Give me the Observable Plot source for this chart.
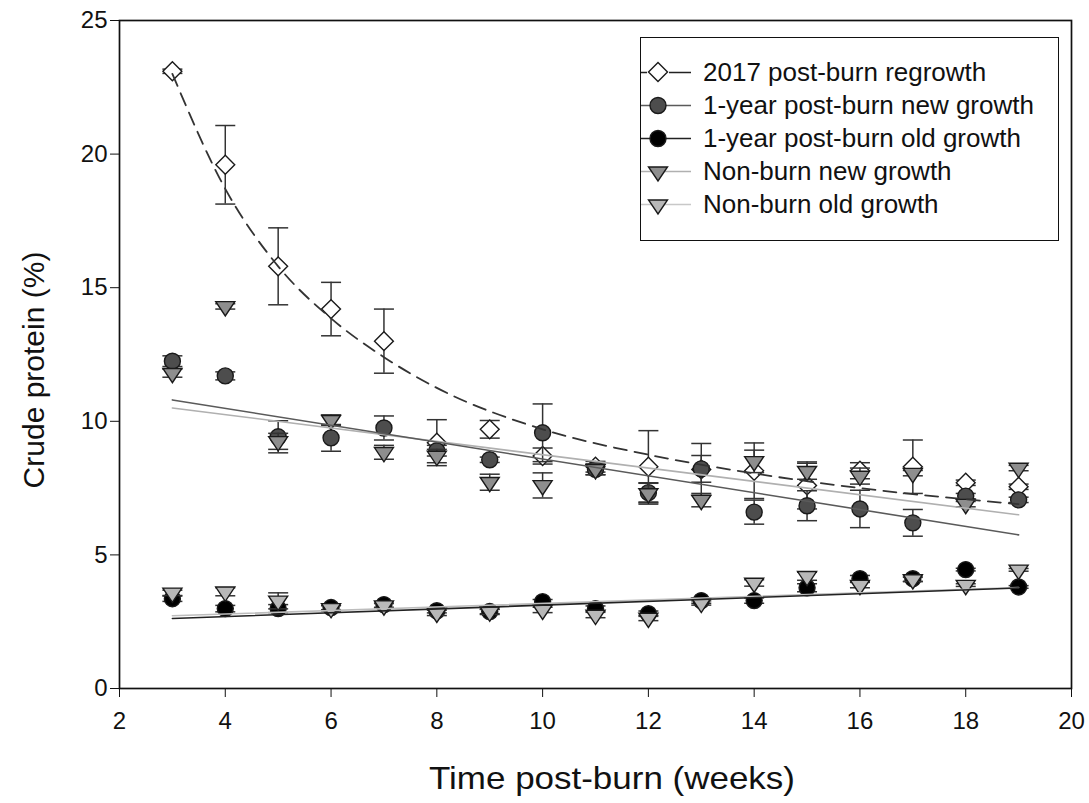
<!DOCTYPE html>
<html>
<head>
<meta charset="utf-8">
<script src="https://cdn.jsdelivr.net/npm/d3@7"></script>
<script src="https://cdn.jsdelivr.net/npm/@observablehq/plot@0.6"></script>
<style>
  body { margin: 0; background: #fff; }
  #wrap { position: relative; width: 1089px; height: 803px; font-family: "Liberation Sans", Arial, sans-serif; color: #111; }
  #chart svg { display: block; }
  #legend { position: absolute; left: 640px; top: 37px; width: 419px; height: 204px; border: 1.6px solid #111; background: #fff; box-sizing: border-box; }
  .row { position: absolute; left: 0; height: 33px; display: flex; align-items: center; white-space: nowrap; }
  .row svg { display: block; }
  .row span { display: inline-block; font-size: 25px; margin-left: 6px; color: #111; transform: scaleX(1.04); transform-origin: left center; }
  .xtitle { position: absolute; left: 612px; top: 778px; font-size: 31.5px; white-space: nowrap; transform: translate(-50%, -50%) scaleX(1.11); }
  .ytitle { position: absolute; left: 34px; top: 370px; font-size: 30px; transform: translate(-50%, -50%) rotate(-90deg); white-space: nowrap; }
</style>
</head>
<body>
<div id="wrap">
  <div id="chart"></div>
  <div class="xtitle" id="xtitle"></div>
  <div class="ytitle" id="ytitle"></div>
  <div id="legend"></div>
</div>
<script>
// ---- data ----
const weeks = [3,4,5,6,7,8,9,10,11,12,13,14,15,16,17,18,19];

const regrowth2017    = [23.1,19.6,15.8,14.2,13.0,9.2,9.7,8.7,8.3,8.3,8.2,8.15,7.6,8.15,8.3,7.7,7.55];
const regrowth2017Err = [0.08,1.47,1.44,1.0,1.2,0.86,0.33,0.3,0.2,1.35,0.97,1.04,0.88,0.3,1.0,0.1,0.1];

const pbNew    = [12.25,11.7,9.42,9.38,9.75,8.9,8.56,9.57,8.2,7.33,8.22,6.6,6.84,6.72,6.2,7.2,7.06];
const pbNewErr = [0.2,0.15,0.6,0.5,0.45,0.2,0.1,1.08,0.2,0.35,0.5,0.45,0.56,0.7,0.5,0.1,0.1];

const pbOld    = [3.36,2.99,2.99,3.03,3.14,2.91,2.88,3.25,2.99,2.8,3.29,3.29,3.77,4.11,4.11,4.45,3.8];
const pbOldErr = [0.1,0.12,0.15,0.08,0.1,0.08,0.08,0.08,0.1,0.1,0.1,0.1,0.15,0.12,0.1,0.05,0.05];

const nbNew    = [11.8,14.3,9.25,10.04,8.84,8.7,7.72,7.6,8.2,7.3,7.05,8.5,8.13,7.95,8.06,6.9,8.25];
const nbNewErr = [0.15,0.1,0.3,0.2,0.26,0.25,0.3,0.47,0.2,0.4,0.25,0.42,0.3,0.3,0.1,0.1,0.1];

const nbOld    = [3.58,3.62,3.28,3.0,3.1,2.83,2.87,2.94,2.75,2.64,3.2,3.95,4.2,3.87,4.08,3.87,4.44];
const nbOldErr = [0.1,0.15,0.3,0.1,0.08,0.1,0.1,0.1,0.1,0.1,0.08,0.12,0.15,0.1,0.08,0.05,0.05];

// fitted curves
const regrowthFitWeeks  = [3,4,5,6,7,8,10,12,14,16,19];
const regrowthFitValues = [23.0,18.7,15.8,13.85,12.4,11.25,9.7,8.75,8.05,7.5,6.9];
const linFitWeeks = [3,19];
const pbNewFit = [10.8,5.75];
const nbNewFit = [10.5,6.5];
const pbOldFit = [2.62,3.76];
const nbOldFit = [2.72,3.78];

const xTicks = [2,4,6,8,10,12,14,16,18,20];
const yTicks = [0,5,10,15,20,25];
const xTitle = "Time post-burn (weeks)";
const yTitle = "Crude protein (%)";

const seriesNames = ["2017 post-burn regrowth","1-year post-burn new growth","1-year post-burn old growth","Non-burn new growth","Non-burn old growth"];

// ---- build tables ----
const toRows = (vals, errs) => weeks.map((w,i) => ({x: w, y: vals[i], lo: vals[i]-errs[i], hi: vals[i]+errs[i]}));
const fitRows = (xs, ys) => xs.map((w,i) => ({x: w, y: ys[i]}));

const triDown = {
  draw(ctx, size) {
    const r = Math.sqrt(size / Math.PI);
    ctx.moveTo(-1.12*r, -0.56*r);
    ctx.lineTo(1.12*r, -0.56*r);
    ctx.lineTo(0, 1.12*r);
    ctx.closePath();
  }
};
const capSym = { draw(ctx) { ctx.moveTo(-10, 0); ctx.lineTo(10, 0); } };

const series = [
  {rows: toRows(regrowth2017, regrowth2017Err), symbol: "diamond2", fill: "#fff", r: 8.5},
  {rows: toRows(pbNew, pbNewErr), symbol: "circle", fill: "#4d4d4d", r: 8},
  {rows: toRows(pbOld, pbOldErr), symbol: "circle", fill: "#000", r: 8},
  {rows: toRows(nbNew, nbNewErr), symbol: triDown, fill: "#8e8e8e", r: 8.5},
  {rows: toRows(nbOld, nbOldErr), symbol: triDown, fill: "#b8b8b8", r: 8.5}
];

const marks = [];
for (const s of series) {
  marks.push(Plot.ruleX(s.rows, {x: "x", y1: "lo", y2: "hi", stroke: "#333", strokeWidth: 1.5}));
  marks.push(Plot.dot(s.rows, {x: "x", y: "hi", symbol: capSym, r: 5, fill: "none", stroke: "#333", strokeWidth: 1.5}));
  marks.push(Plot.dot(s.rows, {x: "x", y: "lo", symbol: capSym, r: 5, fill: "none", stroke: "#333", strokeWidth: 1.5}));
  marks.push(Plot.dot(s.rows, {x: "x", y: "y", symbol: s.symbol, r: s.r, fill: s.fill, stroke: "#1a1a1a", strokeWidth: 1.4}));
}
marks.push(Plot.line(fitRows(linFitWeeks, nbOldFit), {x: "x", y: "y", stroke: "#bdbdbd", strokeWidth: 1.6}));
marks.push(Plot.line(fitRows(linFitWeeks, pbOldFit), {x: "x", y: "y", stroke: "#222", strokeWidth: 1.6}));
marks.push(Plot.line(fitRows(linFitWeeks, nbNewFit), {x: "x", y: "y", stroke: "#b0b0b0", strokeWidth: 1.6}));
marks.push(Plot.line(fitRows(linFitWeeks, pbNewFit), {x: "x", y: "y", stroke: "#5a5a5a", strokeWidth: 1.6}));
marks.push(Plot.line(fitRows(regrowthFitWeeks, regrowthFitValues), {x: "x", y: "y", curve: "monotone-x", stroke: "#333", strokeWidth: 1.8, strokeDasharray: "13,8"}));
marks.push(Plot.frame({stroke: "#111", strokeWidth: 1.7}));

const chart = Plot.plot({
  width: 1089,
  height: 803,
  marginLeft: 119,
  marginRight: 18,
  marginTop: 20,
  marginBottom: 115,
  style: {fontFamily: "'Liberation Sans', Arial, sans-serif", fontSize: "24px", color: "#111", background: "#fff"},
  x: {domain: [2, 20], ticks: xTicks, tickSize: 9, tickPadding: 14, label: null, tickFormat: d => String(d)},
  y: {domain: [0, 25], ticks: yTicks, tickSize: 9, tickPadding: 3, label: null, tickFormat: d => String(d)},
  marks
});
document.getElementById("chart").appendChild(chart);
document.getElementById("xtitle").textContent = xTitle;
document.getElementById("ytitle").textContent = yTitle;

// ---- legend ----
const legendStyles = [
  {line: "#222", dash: "6,22,17,0", sym: "diamond", fill: "#fff"},
  {line: "#5a5a5a", dash: null, sym: "circle", fill: "#4d4d4d"},
  {line: "#222", dash: null, sym: "circle", fill: "#000"},
  {line: "#b0b0b0", dash: null, sym: "tri", fill: "#8e8e8e"},
  {line: "#c8c8c8", dash: null, sym: "tri", fill: "#b8b8b8"}
];
const legend = document.getElementById("legend");
seriesNames.forEach((name, i) => {
  const st = legendStyles[i];
  const row = document.createElement("div");
  row.className = "row";
  row.style.top = (18 + i * 33) + "px";
  let symSvg = "";
  if (st.sym === "diamond") symSvg = `<path d="M17,6.5 L26.5,16 L17,25.5 L7.5,16 Z" fill="${st.fill}" stroke="#1a1a1a" stroke-width="1.4"/>`;
  else if (st.sym === "circle") symSvg = `<circle cx="17" cy="16.5" r="8" fill="${st.fill}" stroke="#1a1a1a" stroke-width="1.4"/>`;
  else symSvg = `<path d="M7.5,12 L26.5,12 L17,26 Z" fill="${st.fill}" stroke="#1a1a1a" stroke-width="1.4"/>`;
  row.innerHTML = `<svg width="56" height="33"><line x1="0" x2="50" y1="16.5" y2="16.5" stroke="${st.line}" stroke-width="1.6" ${st.dash ? `stroke-dasharray="${st.dash}"` : ""}/>${symSvg}</svg><span>${name}</span>`;
  legend.appendChild(row);
});
</script>
</body>
</html>
